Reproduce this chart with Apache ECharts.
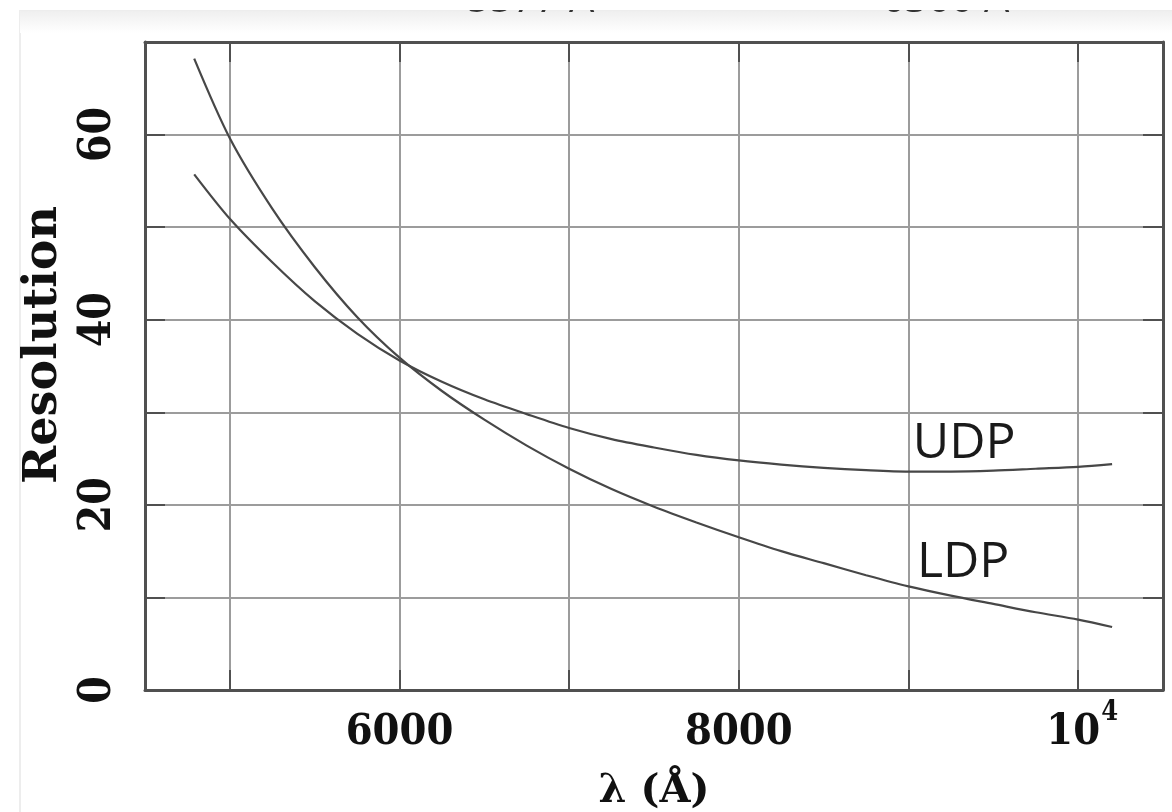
<!DOCTYPE html>
<html><head><meta charset="utf-8">
<script src="https://cdn.jsdelivr.net/npm/echarts@6/dist/echarts.min.js"></script>
<style>html,body{margin:0;padding:0;background:#fff}#c{width:1172px;height:812px}</style>
</head><body><div id="c"></div>
<script>
// ---- data ----
const ldpX = [4790, 5000, 5250, 5500, 5750, 6000, 6250, 6500, 6750, 7000, 7250, 7500, 7750, 8000, 8250, 8500, 8750, 9000, 9250, 9500, 9750, 10000, 10200];
const ldpY = [68.2, 59.6, 52.0, 45.7, 40.3, 35.9, 32.3, 29.2, 26.4, 23.9, 21.7, 19.8, 18.1, 16.5, 15.0, 13.7, 12.4, 11.2, 10.2, 9.3, 8.4, 7.6, 6.8];
const udpX = [4790, 5000, 5250, 5500, 5750, 6000, 6250, 6500, 6750, 7000, 7250, 7500, 7750, 8000, 8250, 8500, 8750, 9000, 9250, 9500, 9750, 10000, 10200];
const udpY = [55.7, 50.9, 46.2, 42.0, 38.5, 35.6, 33.3, 31.4, 29.8, 28.3, 27.1, 26.2, 25.4, 24.8, 24.35, 24.0, 23.75, 23.6, 23.6, 23.7, 23.9, 24.1, 24.4];
const xTicks = [5000, 6000, 7000, 8000, 9000, 10000];
const xLabels = [6000, 8000, 10000];
const yLabels = [0, 20, 40, 60];
const seriesNames = ['LDP', 'UDP'];
const topCutTexts = ['5577 Å', '6300 Å'];

const ldpLabelAt = [9050, 13.7];
const udpLabelAt = [9025, 26.6];

const zip = (xs, ys) => xs.map((x, i) => [x, ys[i]]);
const axisColor = '#505050';
const gridColor = '#9c9c9c';
const curveColor = '#474747';
const serifC = '"DejaVu Serif Condensed", "DejaVu Serif", serif';
const serif = '"DejaVu Serif", serif';

const chart = echarts.init(document.getElementById('c'), null, {renderer: 'canvas'});

function frameAxis(pos, isX) {
  const base = {
    type: 'value', position: pos,
    axisLine: {show: true, onZero: false, lineStyle: {color: axisColor, width: 3}},
    axisTick: {show: true, inside: true, length: 20, lineStyle: {color: axisColor, width: 2}},
    axisLabel: {show: false},
    splitLine: {show: false}
  };
  if (isX) { base.min = 4500; base.max = 10500; base.axisTick.customValues = xTicks; }
  else { base.min = 0; base.max = 70; base.interval = 10; }
  return base;
}

const option = {
  animation: false,
  backgroundColor: '#ffffff',
  grid: {left: 145, right: 9, top: 42, bottom: 122, containLabel: false, outerBoundsMode: 'none'},
  graphic: [
    {type: 'rect', z: 0, shape: {x: 20, y: 11, width: 1160, height: 820},
     style: {fill: 'none', stroke: '#ededed', lineWidth: 2}},
    {type: 'rect', z: 0, shape: {x: 20, y: 11, width: 1160, height: 22},
     style: {fill: new echarts.graphic.LinearGradient(0, 0, 0, 1, [{offset: 0, color: '#efefef'}, {offset: 1, color: '#ffffff'}])}},
    {type: 'text', z: 1, x: 467, y: -19, style: {text: topCutTexts[0], font: '40px "Open Sans", sans-serif', fill: '#333'}},
    {type: 'text', z: 1, x: 882, y: -19, style: {text: topCutTexts[1], font: '40px "Open Sans", sans-serif', fill: '#333'}},
    {type: 'rect', z: 2, shape: {x: 0, y: 0, width: 1172, height: 10}, style: {fill: '#ffffff'}}
  ],
  xAxis: [
    Object.assign(frameAxis('bottom', true), {
      axisLabel: {
        show: true, customValues: xLabels, margin: 64, verticalAlign: 'bottom',
        fontFamily: serifC, fontSize: 43, fontWeight: 'bold', color: '#111',
        formatter: v => v === 10000 ? '{b|10}{s|4}' : String(v),
        rich: {
          b: {fontFamily: serifC, fontSize: 43, fontWeight: 'bold', color: '#111', padding: [12, 0, 0, 8]},
          s: {fontFamily: serifC, fontSize: 27, fontWeight: 'bold', color: '#111', padding: [0, 0, 28, 1]}
        }
      },
      splitLine: {show: true, lineStyle: {color: gridColor, width: 2}},
      name: 'λ (Å)', nameLocation: 'middle', nameGap: 82,
      nameTextStyle: {fontFamily: serif, fontSize: 40, fontWeight: 'bold', color: '#111'}
    }),
    frameAxis('top', true)
  ],
  yAxis: [
    Object.assign(frameAxis('left', false), {
      axisLabel: {
        show: true, rotate: 90, margin: 24,
        fontFamily: serifC, fontSize: 44, fontWeight: 'bold', color: '#111',
        formatter: v => yLabels.includes(v) ? String(v) : ''
      },
      splitLine: {show: true, lineStyle: {color: gridColor, width: 2}},
      name: 'Resolution', nameLocation: 'middle', nameGap: 78, nameRotate: 90,
      nameTextStyle: {fontFamily: serif, fontSize: 46, fontWeight: 'bold', color: '#111', padding: [0, 0, 0, 42]}
    }),
    frameAxis('right', false)
  ],
  series: [
    {
      name: seriesNames[0], type: 'line', smooth: 0.3, showSymbol: false, symbol: 'none',
      data: zip(ldpX, ldpY), lineStyle: {color: curveColor, width: 2.2},
      markPoint: {symbol: 'rect', symbolSize: 0, silent: true,
        label: {show: true, formatter: seriesNames[0], position: 'inside', align: 'left', verticalAlign: 'middle',
          fontFamily: '"Open Sans", sans-serif', fontSize: 50, color: '#1a1a1a'},
        data: [{coord: ldpLabelAt}]}
    },
    {
      name: seriesNames[1], type: 'line', smooth: 0.3, showSymbol: false, symbol: 'none',
      data: zip(udpX, udpY), lineStyle: {color: curveColor, width: 2.2},
      markPoint: {symbol: 'rect', symbolSize: 0, silent: true,
        label: {show: true, formatter: seriesNames[1], position: 'inside', align: 'left', verticalAlign: 'middle',
          fontFamily: '"Open Sans", sans-serif', fontSize: 50, color: '#1a1a1a'},
        data: [{coord: udpLabelAt}]}
    }
  ]
};
chart.setOption(option);
</script></body></html>
